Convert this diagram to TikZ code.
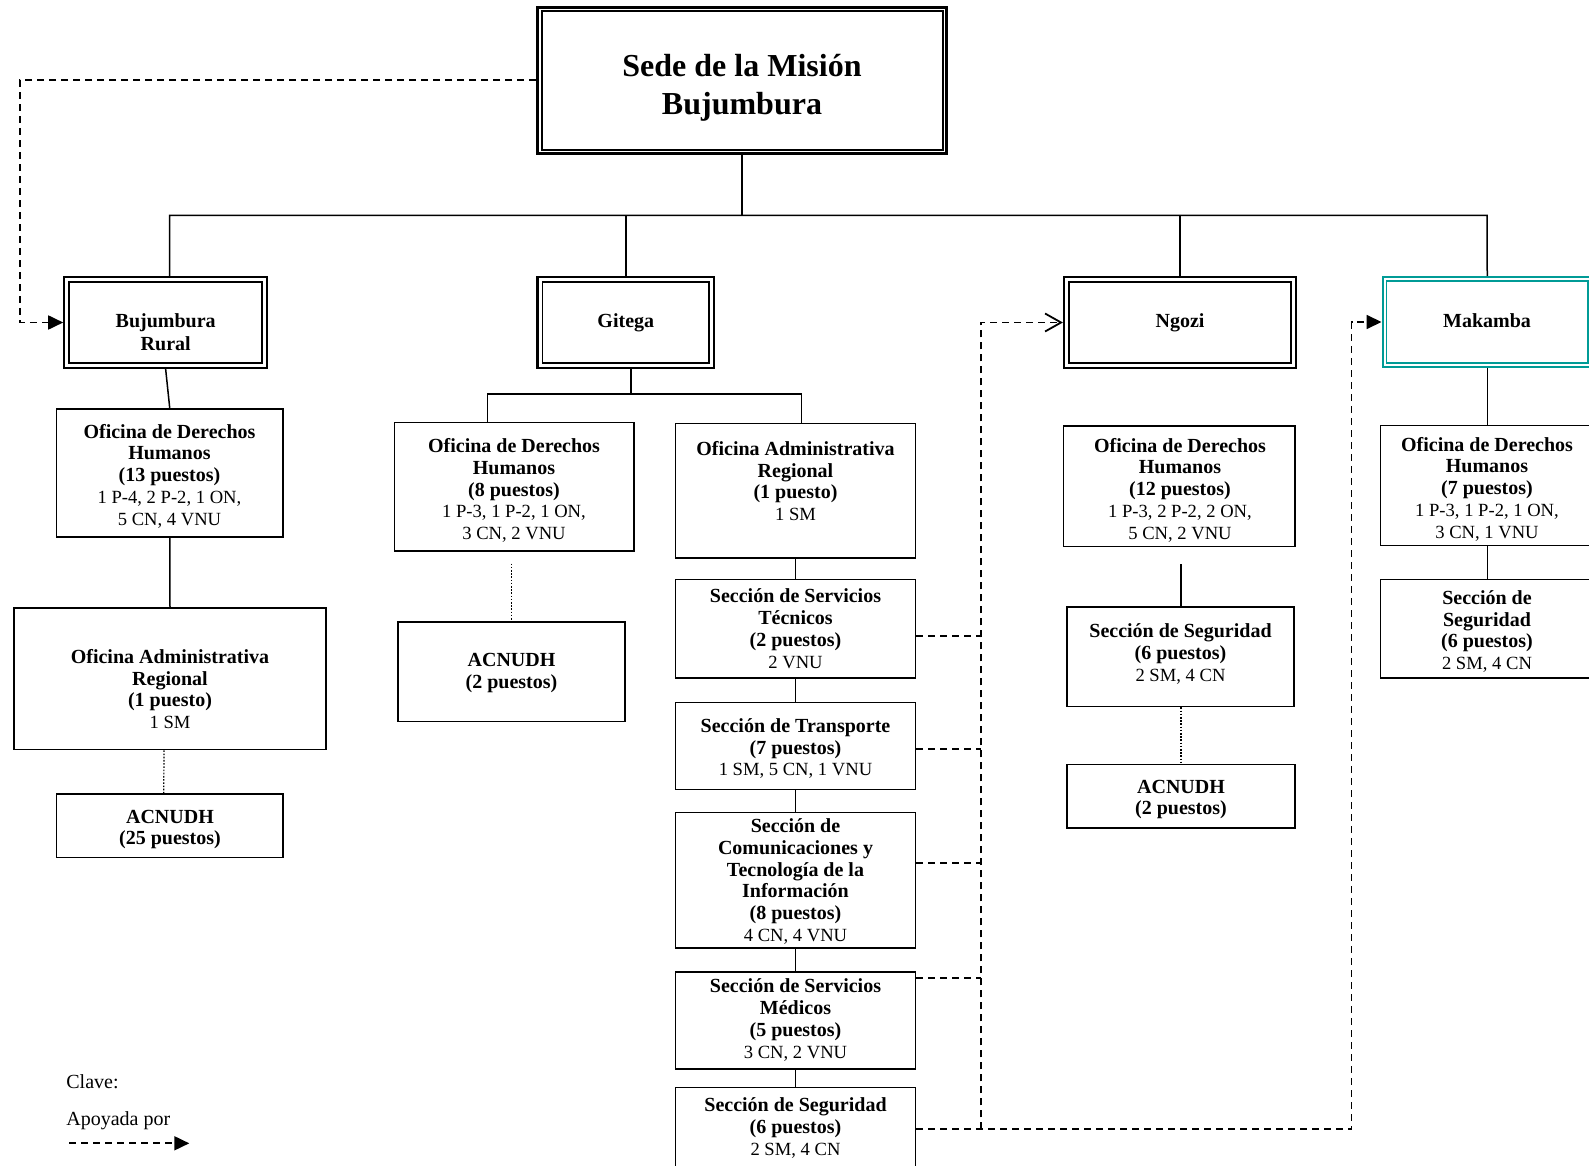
\documentclass[tikz,border=0pt]{standalone}
\usepackage{fontspec}
\setmainfont{Liberation Serif}
\usetikzlibrary{fit,arrows.meta}
\definecolor{mkteal}{RGB}{0,155,150}

% rectangular box spanning two corners
\newcommand\orgbox[6][]{\node[fit={(#3,#4) (#5,#6)}, inner sep=0pt, draw, line width=0.8pt, #1] (#2) {};}
% second, inner frame of a double-bordered box
\newcommand\innerframe[4]{\draw[line width=#3, #4] ([shift={(#2,-#2)}]#1.north west) rectangle ([shift={(-#2,#2)}]#1.south east);}
% staff breakdown lines, set a little smaller
\newcommand\staff[1]{{\fontsize{9.3}{10.9}\selectfont #1}}

\begin{document}
\begin{tikzpicture}[x=0.5pt, y=-0.5pt,
  txt/.style={align=center, inner sep=0pt, font=\fontsize{10}{10.9}\selectfont},
  conn/.style={line width=0.75pt},
  trunk/.style={line width=1.2pt},
  dotline/.style={line width=0.6pt, dash pattern=on 0.8pt off 0.8pt},
  support/.style={line width=0.9pt, dash pattern=on 3.5pt off 2.5pt},
  fulltip/.style={-{Triangle[length=7.5pt,width=7pt]}},
  barbtip/.style={-{Straight Barb[length=8pt,width=9pt,line width=0.9pt]}}]
\useasboundingbox (0,0) rectangle (1589,1166);

% ---- headquarters ----
\orgbox[line width=1.5pt]{sede}{537.5}{7.5}{946.5}{154}
\innerframe{sede}{2.75pt}{1pt}{black}
\node[txt, font=\fontsize{16}{19}\selectfont\bfseries] (sede-t) at (742,88) {Sede de la Misión\\Bujumbura};

% ---- regions ----
\orgbox[line width=1.1pt]{br}{64.3}{277}{267}{368}
\innerframe{br}{3pt}{0.9pt}{black}
\node[txt, font=\fontsize{10}{11.2}\selectfont\bfseries] (br-t) at (165.7,332) {Bujumbura\\Rural};

\orgbox[line width=1.1pt]{gi}{537.5}{277}{714}{368}
\innerframe{gi}{3pt}{0.9pt}{black}
\node[txt, font=\fontsize{10}{11}\selectfont\bfseries] (gi-t) at (625.8,323) {Gitega};

\orgbox[line width=1.1pt]{ng}{1064}{277}{1296}{368}
\innerframe{ng}{3pt}{0.9pt}{black}
\node[txt, font=\fontsize{10}{11}\selectfont\bfseries] (ng-t) at (1180,323) {Ngozi};

\orgbox[line width=1pt, draw=mkteal]{mk}{1382.5}{277}{1592}{367}
\innerframe{mk}{2.5pt}{0.8pt}{mkteal}
\node[txt, font=\fontsize{10}{11}\selectfont\bfseries] (mk-t) at (1487,321) {Makamba};

% ---- Bujumbura Rural ----
\orgbox{brodh}{56.5}{409}{283}{537}
\node[txt] (brodh-t) at (169.5,476) {\textbf{Oficina de Derechos}\\\textbf{Humanos}\\\textbf{(13 puestos)}\\\staff{1 P-4, 2 P-2, 1 ON,}\\\staff{5 CN, 4 VNU}};
\orgbox{broar}{14}{608}{326}{749.5}
\node[txt] (broar-t) at (170,689) {\textbf{Oficina Administrativa}\\\textbf{Regional}\\\textbf{(1 puesto)}\\\staff{1 SM}};
\orgbox{brac}{56.5}{794}{283}{857.5}
\node[txt] (brac-t) at (170,829.5) {\textbf{ACNUDH}\\\textbf{(25 puestos)}};

% ---- Gitega ----
\orgbox{godh}{394.5}{422.5}{634}{551}
\node[txt] (godh-t) at (514,490.5) {\textbf{Oficina de Derechos}\\\textbf{Humanos}\\\textbf{(8 puestos)}\\\staff{1 P-3, 1 P-2, 1 ON,}\\\staff{3 CN, 2 VNU}};
\orgbox{gac}{398}{622}{625}{721.5}
\node[txt] (gac-t) at (511.5,673) {\textbf{ACNUDH}\\\textbf{(2 puestos)}};
\orgbox{gor}{675.5}{423.5}{915.5}{558}
\node[txt] (gor-t) at (795.5,481) {\textbf{Oficina Administrativa}\\\textbf{Regional}\\\textbf{(1 puesto)}\\\staff{1 SM}};
\orgbox{sst}{675.5}{579.5}{915.5}{678}
\node[txt] (sst-t) at (795.5,628.5) {\textbf{Sección de Servicios}\\\textbf{Técnicos}\\\textbf{(2 puestos)}\\\staff{2 VNU}};
\orgbox{st}{675.5}{702.5}{915.5}{789.5}
\node[txt] (st-t) at (795.5,748.5) {\textbf{Sección de Transporte}\\\textbf{(7 puestos)}\\\staff{1 SM, 5 CN, 1 VNU}};
\orgbox{scti}{675.5}{812.5}{915.5}{948}
\node[txt] (scti-t) at (795.5,881.5) {\textbf{Sección de}\\\textbf{Comunicaciones y}\\\textbf{Tecnología de la}\\\textbf{Información}\\\textbf{(8 puestos)}\\\staff{4 CN, 4 VNU}};
\orgbox{ssm}{675.5}{972}{915.5}{1069}
\node[txt] (ssm-t) at (795.5,1020) {\textbf{Sección de Servicios}\\\textbf{Médicos}\\\textbf{(5 puestos)}\\\staff{3 CN, 2 VNU}};
\orgbox{ss}{675.5}{1087.5}{915.5}{1185}
\node[txt] (ss-t) at (795.5,1128) {\textbf{Sección de Seguridad}\\\textbf{(6 puestos)}\\\staff{2 SM, 4 CN}};

% ---- Ngozi ----
\orgbox{ngodh}{1063.5}{426}{1295}{546.5}
\node[txt] (ngodh-t) at (1180,490) {\textbf{Oficina de Derechos}\\\textbf{Humanos}\\\textbf{(12 puestos)}\\\staff{1 P-3, 2 P-2, 2 ON,}\\\staff{5 CN, 2 VNU}};
\orgbox{ngss}{1067}{607}{1294}{706.5}
\node[txt] (ngss-t) at (1180.5,654) {\textbf{Sección de Seguridad}\\\textbf{(6 puestos)}\\\staff{2 SM, 4 CN}};
\orgbox{ngac}{1067}{764.5}{1295}{828}
\node[txt] (ngac-t) at (1181,799.5) {\textbf{ACNUDH}\\\textbf{(2 puestos)}};

% ---- Makamba ----
\orgbox{mkodh}{1380.5}{425.5}{1594}{545.5}
\node[txt] (mkodh-t) at (1487,489) {\textbf{Oficina de Derechos}\\\textbf{Humanos}\\\textbf{(7 puestos)}\\\staff{1 P-3, 1 P-2, 1 ON,}\\\staff{3 CN, 1 VNU}};
\orgbox{mkss}{1380.5}{579.5}{1594}{678}
\node[txt] (mkss-t) at (1487,631.5) {\textbf{Sección de}\\\textbf{Seguridad}\\\textbf{(6 puestos)}\\\staff{2 SM, 4 CN}};

% ---- reporting lines ----
\coordinate (busW) at (169.6,215.5);
\coordinate (busE) at (1487,215.5);
\draw[trunk] (sede.south) -- (sede.south |- busW);
\draw[conn] (br.north -| busW) -- (busW) -- (busE) -- (mk.north);
\draw[conn] (gi.north) -- (gi.north |- busW);
\draw[conn] (ng.north) -- (ng.north |- busW);

\draw[conn] (br.south) -- (brodh.north);
\draw[conn] (brodh.south) -- (broar.north);
\draw[dotline] ([xshift=-3pt]broar.south) -- ([xshift=-3pt]brac.north);

\coordinate (gJ) at (631,394);
\coordinate (gL) at (487.4,394);
\coordinate (gR) at (801.7,394);
\draw[conn] (gi.south -| gJ) -- (gJ);
\draw[conn] (godh.north -| gL) -- (gL) -- (gR) -- (gor.north -| gR);
\coordinate (gDot) at (511.8,563.5);
\draw[dotline] (gDot) -- (gac.north -| gDot);
\draw[conn] (gor.south) -- (sst.north);
\draw[conn] (sst.south) -- (st.north);
\draw[conn] (st.south) -- (scti.north);
\draw[conn] (scti.south) -- (ssm.north);
\draw[conn] (ssm.south) -- (ss.north);

\coordinate (nJ) at (1181,564);
\draw[conn] (nJ) -- (ngss.north -| nJ);
\draw[dotline] (ngss.south -| nJ) -- (ngac.north -| nJ);

\draw[conn] (mk.south) -- (mkodh.north);
\draw[conn] (mkodh.south) -- (mkss.north);

% ---- support lines ----
\coordinate (dL) at (20,80.3);
\draw[support, fulltip] (sede.west |- dL) -- (dL) |- (br.west);

\coordinate (sA) at (981,636);
\coordinate (sB) at (981,749);
\coordinate (sC) at (981,863.3);
\coordinate (sD) at (981,977.7);
\coordinate (sE) at (981,1129.3);
\coordinate (vTop) at (981,322.5);
\coordinate (mBot) at (1351.5,1129.3);
\coordinate (mTop) at (1351.5,322);
\draw[support] (sst.east |- sA) -- (sA);
\draw[support] (st.east |- sB) -- (sB);
\draw[support] (scti.east |- sC) -- (sC);
\draw[support] (ssm.east |- sD) -- (sD);
\draw[support, barbtip] (sE) -- (vTop) -- (ng.west);
\draw[support, fulltip] (ss.east |- sE) -- (mBot) -- (mTop) -- (mk.west |- mTop);

% ---- key ----
\node[txt, anchor=west] (key1) at (66,1082) {Clave:};
\node[txt, anchor=west] (key2) at (66,1121) {Apoyada por};
\coordinate (kA) at (69,1143.3);
\coordinate (kB) at (189.3,1143.3);
\draw[support, fulltip] (kA) -- (kB);
\end{tikzpicture}
\end{document}
